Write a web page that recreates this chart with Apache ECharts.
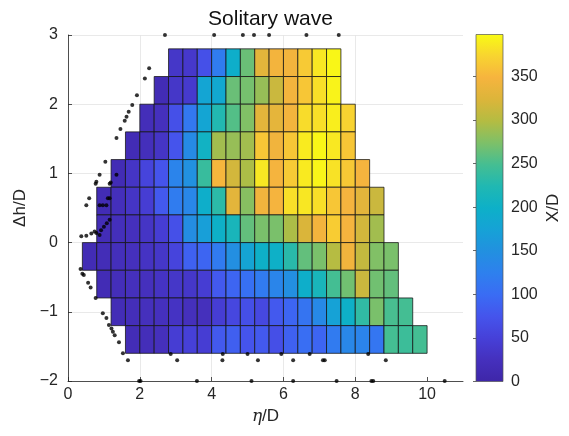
<!DOCTYPE html>
<html><head><meta charset="utf-8">
<script src="https://cdn.jsdelivr.net/npm/echarts@6/dist/echarts.min.js"></script>
<style>html,body{margin:0;padding:0;background:#fff}#c{width:569px;height:436px}</style>
</head><body><div id="c"></div>
<script>
// ---- data ----
const cellSize = 0.4;
const rowCenters   = [2.6, 2.2, 1.8, 1.4, 1.0, 0.6, 0.2, -0.2, -0.6, -1.0, -1.4];
const rowLeftEdges = [2.8, 2.4, 2.0, 1.6, 1.2, 0.8, 0.8,  0.4,  0.8,  1.2,  1.6];
const row_p2_6 = [35, 38, 70, 120, 195, 265, 330, 345, 345, 365, 385, 395];
const row_p2_2 = [15, 35, 40, 180, 185, 265, 270, 285, 312, 345, 362, 380, 393];
const row_p1_8 = [20, 25, 70, 115, 180, 225, 255, 275, 330, 332, 345, 378, 380, 390, 372];
const row_p1_4 = [15, 22, 32, 75, 140, 205, 290, 285, 290, 362, 343, 362, 388, 395, 386, 362];
const row_p1_0 = [15, 32, 55, 75, 130, 150, 240, 350, 318, 295, 385, 347, 365, 387, 394, 382, 364, 347];
const row_p0_6 = [15, 22, 32, 45, 80, 120, 135, 195, 232, 330, 278, 343, 347, 380, 385, 380, 362, 347, 330, 312];
const row_p0_2 = [18, 22, 25, 32, 45, 70, 145, 170, 200, 215, 262, 272, 272, 295, 322, 345, 367, 347, 318, 290];
const row_m0_2 = [15, 18, 22, 25, 30, 35, 55, 88, 92, 118, 148, 178, 200, 200, 230, 262, 272, 300, 343, 308, 275, 272];
const row_m0_6 = [15, 20, 24, 25, 30, 35, 36, 45, 80, 92, 105, 118, 132, 148, 195, 215, 248, 268, 312, 268, 262];
const row_m1_0 = [17, 20, 24, 25, 30, 24, 24, 45, 58, 68, 60, 80, 92, 110, 138, 175, 200, 235, 272, 250, 248];
const row_m1_4 = [17, 20, 24, 45, 50, 45, 80, 86, 75, 80, 68, 88, 102, 92, 118, 135, 130, 112, 248, 243, 248];
const rowValues = [row_p2_6, row_p2_2, row_p1_8, row_p1_4, row_p1_0, row_p0_6, row_p0_2, row_m0_2, row_m0_6, row_m1_0, row_m1_4];

const dotsX = [2.7, 4.07, 4.87, 5.18, 5.6, 6.64, 7.54,
  2.26, 2.14, 1.92, 1.79, 1.69, 1.63, 1.58, 1.46, 1.35, 1.04, 0.88, 0.79, 0.77, 1.19, 1.16, 1.35,
  0.59, 0.51, 0.88, 0.97, 1.11, 1.07, 1.16,
  0.37, 0.51, 0.65, 0.74, 0.79, 0.88, 0.92, 1.0, 1.08, 1.16,
  0.35, 0.40, 0.44, 0.56, 0.63, 0.77, 0.97, 1.07, 1.14, 1.21, 1.25, 1.30, 1.42, 1.53, 1.67,
  3.04, 4.30, 5.29, 6.27, 7.10, 7.15, 8.85,
  2.86, 4.31, 5.0, 5.94, 6.73, 8.36,
  1.98, 2.02, 3.59, 5.11, 6.27, 7.48, 8.45, 8.5, 10.49];
const dotsY = [3, 3, 3, 3, 3, 3, 3,
  2.52, 2.37, 2.13, 1.99, 1.89, 1.82, 1.76, 1.64, 1.51, 1.17, 0.98, 0.88, 0.85, 0.87, 0.85, 0.98,
  0.64, 0.54, 0.54, 0.54, 0.64, 0.54, 0.64,
  0.09, 0.10, 0.13, 0.16, 0.14, 0.11, 0.18, 0.23, 0.28, 0.33,
  -0.38, -0.45, -0.47, -0.58, -0.65, -0.80, -1.02, -1.09, -1.19, -1.24, -1.29, -1.34, -1.44, -1.60, -1.70,
  -1.70, -1.70, -1.70, -1.70, -1.70, -1.70, -1.70,
  -1.61, -1.61, -1.61, -1.61, -1.61, -1.61,
  -2, -2, -2, -2, -2, -2, -2, -2, -2];

const xTicks = [0, 2, 4, 6, 8, 10];
const yTicks = [-2, -1, 0, 1, 2, 3];
const cbTicks = [0, 50, 100, 150, 200, 250, 300, 350];
const cbMin = 0, cbMax = 398;
const parula = ['#3E26A8','#4530BD','#4640D8','#4554EC','#3A6CF4','#2E80EE','#2290E0','#16A2D6',
  '#0DB0C8','#20B8B2','#45BE92','#7EC068','#B4BC42','#DCB53A','#F6B43E','#F8D430','#F9FB14'];

// ---- build ----
const cells = [];
rowValues.forEach((vals, r) => {
  vals.forEach((v, i) => {
    cells.push([rowLeftEdges[r] + cellSize * (i + 0.5), rowCenters[r], v]);
  });
});
const dots = dotsX.map((x, i) => [x, dotsY[i]]);

const FONT = "'Liberation Sans', Arial, sans-serif";
const TXT = '#262626';
const fmtMinus = v => String(v).replace('-', '\u2212');

const chart = echarts.init(document.getElementById('c'), null, {renderer: 'canvas'});
chart.setOption({
  animation: false,
  backgroundColor: '#fff',
  title: {
    text: 'Solitary wave', left: 265.5, top: 4, textAlign: 'center',
    textStyle: {fontFamily: FONT, fontSize: 21, fontWeight: 'normal', color: '#111'}
  },
  grid: [
    {left: 68, top: 35, width: 395, height: 346},
    {left: 476, top: 34.5, width: 27, height: 347}
  ],
  xAxis: [{
    type: 'value', min: 0, max: 11, interval: 2, gridIndex: 0,
    axisLine: {show: true, onZero: false, lineStyle: {color: TXT, width: 0.8}},
    axisTick: {show: true, inside: true, length: 4, customValues: xTicks, lineStyle: {color: TXT, width: 0.8}},
    axisLabel: {customValues: xTicks, formatter: v => (v > 10 ? '' : fmtMinus(v)), fontFamily: FONT, fontSize: 16, color: TXT, margin: 6},
    splitLine: {show: true, showMaxLine: false, lineStyle: {color: '#e3e3e3', width: 0.8}},
    name: '{i|\u03b7}/D', nameLocation: 'middle', nameGap: 22,
    nameTextStyle: {fontFamily: FONT, fontSize: 17, color: TXT,
      rich: {i: {fontFamily: "'DejaVu Serif', serif", fontStyle: 'italic', fontSize: 17, color: TXT}}}
  }, {
    type: 'value', min: 0, max: 1, gridIndex: 1, show: false
  }],
  yAxis: [{
    type: 'value', min: -2, max: 3, interval: 1, gridIndex: 0,
    axisLine: {show: true, onZero: false, lineStyle: {color: TXT, width: 0.8}},
    axisTick: {show: true, inside: true, length: 4, customValues: yTicks, lineStyle: {color: TXT, width: 0.8}},
    axisLabel: {customValues: yTicks, formatter: fmtMinus, fontFamily: FONT, fontSize: 16, color: TXT, margin: 10},
    splitLine: {show: true, lineStyle: {color: '#e3e3e3', width: 0.8}},
    name: '\u0394h/D', nameLocation: 'middle', nameRotate: 90, nameGap: 38,
    nameTextStyle: {fontFamily: FONT, fontSize: 17, color: TXT}
  }, {
    type: 'value', min: cbMin, max: cbMax, interval: 50, gridIndex: 1, position: 'right',
    axisLine: {show: false},
    axisTick: {show: true, inside: true, length: 3, customValues: cbTicks, lineStyle: {color: '#444', width: 0.8}},
    axisLabel: {customValues: cbTicks, formatter: v => (v > 350 ? '' : v), fontFamily: FONT, fontSize: 16, color: TXT, margin: 8},
    splitLine: {show: false},
    name: 'X/D', nameLocation: 'middle', nameRotate: 90, nameGap: 42,
    nameTextStyle: {fontFamily: FONT, fontSize: 17, color: TXT}
  }],
  visualMap: {
    show: false, type: 'continuous', min: cbMin, max: cbMax, dimension: 2, seriesIndex: 0,
    inRange: {color: parula}
  },
  series: [{
    type: 'custom', xAxisIndex: 0, yAxisIndex: 0, z: 2,
    encode: {x: 0, y: 1},
    data: cells,
    renderItem: function (params, api) {
      const x = api.value(0), y = api.value(1);
      const p0 = api.coord([x - cellSize / 2, y + cellSize / 2]);
      const p1 = api.coord([x + cellSize / 2, y - cellSize / 2]);
      return {
        type: 'rect',
        shape: {x: p0[0], y: p0[1], width: p1[0] - p0[0], height: p1[1] - p0[1]},
        style: {fill: api.visual('color'), stroke: 'rgba(20,20,20,0.85)', lineWidth: 0.9}
      };
    }
  }, {
    type: 'scatter', xAxisIndex: 0, yAxisIndex: 0, z: 5,
    symbol: 'circle', symbolSize: 4,
    itemStyle: {color: '#000'},
    data: dots
  }, {
    type: 'custom', xAxisIndex: 1, yAxisIndex: 1, z: 2,
    encode: {x: [0, 2], y: [1, 3]},
    data: [[0, cbMin, 1, cbMax]],
    renderItem: function (params, api) {
      const p0 = api.coord([api.value(0), api.value(3)]);
      const p1 = api.coord([api.value(2), api.value(1)]);
      const stops = parula.map((c, i) => ({offset: i / (parula.length - 1), color: c}));
      return {
        type: 'rect',
        shape: {x: p0[0], y: p0[1], width: p1[0] - p0[0], height: p1[1] - p0[1]},
        style: {fill: new echarts.graphic.LinearGradient(0, 1, 0, 0, stops), stroke: '#555', lineWidth: 0.7}
      };
    }
  }]
});
</script>
</body></html>
